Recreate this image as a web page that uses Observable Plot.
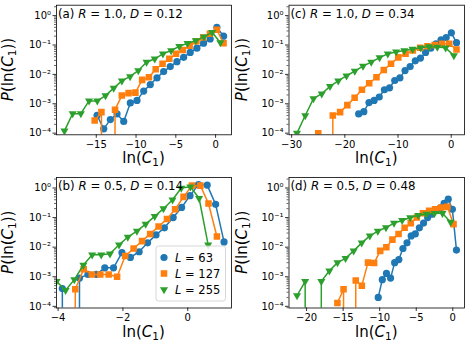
<!DOCTYPE html>
<html><head><meta charset="utf-8">
<script src="https://cdn.jsdelivr.net/npm/d3@7"></script>
<script src="https://cdn.jsdelivr.net/npm/@observablehq/plot@0.6"></script>
<style>
body{margin:0;background:#fff;}
#fig{position:relative;width:469px;height:351px;font-family:"DejaVu Sans";background:#fff;}
#fig svg{position:absolute;overflow:visible;}
</style></head><body><div id="fig"></div>
<script>
// ---- series labels ----
const sizes = [63, 127, 255];
const colors = ["#1f77b4", "#ff7f0e", "#2ca02c"];

// ---- panel (a) R=1.0, D=0.12 ----
const a63x = [-14.9, -14.06, -13.23, -12.39, -11.55, -10.72, -9.88, -9.04, -8.21, -7.37, -6.53, -5.70, -4.86, -4.02, -3.19, -2.35, -1.51, -0.68, 0.16, 1.0];
const a63p = [4.0e-4, 1.4e-4, 2.9e-4, 4.5e-4, 2.5e-4, 1.07e-3, 1.3e-3, 2.7e-3, 4.5e-3, 7.6e-3, 1.25e-2, 1.85e-2, 2.7e-2, 3.8e-2, 5.6e-2, 7.8e-2, 0.115, 0.16, 0.4, 0.2];
const a127x = [-15.2, -14.35, -13.49, -12.64, -11.79, -10.94, -10.08, -9.23, -8.38, -7.53, -6.67, -5.82, -4.97, -4.12, -3.26, -2.41, -1.56, -0.71, 0.15, 1.0];
const a127p = [2.7e-4, 5.2e-4, 0, 6.3e-4, 1.9e-3, 2.3e-3, 2.4e-3, 6.5e-3, 8e-3, 1.5e-2, 2.3e-2, 3.4e-2, 5e-2, 6.8e-2, 9.5e-2, 0.134, 0.18, 0.24, 0.33, 0.115];
const a255x = [-19, -17.97, -16.94, -15.91, -14.87, -13.84, -12.81, -11.78, -10.75, -9.72, -8.68, -7.65, -6.62, -5.59, -4.56, -3.53, -2.49, -1.46, -0.43, 0.6];
const a255p = [1.2e-4, 4.6e-4, 4.6e-4, 1.25e-3, 1.25e-3, 1.9e-3, 3.4e-3, 6e-3, 8.5e-3, 1.35e-2, 2.6e-2, 3.4e-2, 5e-2, 6.5e-2, 9e-2, 0.115, 0.14, 0.19, 0.27, 0.12];

// ---- panel (c) R=1.0, D=0.34 ----
const c63x = [-17.4, -16.43, -15.46, -14.49, -13.53, -12.56, -11.59, -10.62, -9.65, -8.68, -7.72, -6.75, -5.78, -4.81, -3.84, -2.87, -1.91, -0.94, 0.03, 1.0];
const c63p = [4.5e-4, 5.4e-4, 1.1e-3, 1.3e-3, 1.7e-3, 3.0e-3, 3.5e-3, 6.2e-3, 7.6e-3, 1.35e-2, 1.85e-2, 2.9e-2, 3.6e-2, 5.6e-2, 7.8e-2, 0.11, 0.15, 0.18, 0.26, 0.12];
const c127x = [-25, -23.63, -22.26, -20.89, -19.53, -18.16, -16.79, -15.42, -14.05, -12.68, -11.32, -9.95, -8.58, -7.21, -5.84, -4.47, -3.11, -1.74, -0.37, 1.0];
const c127p = [1.0e-4, 0, 4e-4, 5.2e-4, 9e-4, 1.6e-3, 3e-3, 5e-3, 8e-3, 1.4e-2, 2.3e-2, 3.8e-2, 5e-2, 6.5e-2, 8e-2, 9e-2, 0.1, 0.11, 0.11, 0.07];
const c255x = [-29, -27.45, -25.9, -24.34, -22.79, -21.24, -19.69, -18.13, -16.58, -15.03, -13.47, -11.92, -10.37, -8.82, -7.26, -5.71, -4.16, -2.61, -1.05, 0.5];
const c255p = [1.0e-4, 4e-4, 1.5e-3, 2.2e-3, 3.9e-3, 6e-3, 9e-3, 1.3e-2, 1.9e-2, 2.6e-2, 3.7e-2, 5e-2, 5.8e-2, 6.5e-2, 7.3e-2, 8e-2, 8.8e-2, 8.5e-2, 8e-2, 4.4e-2];

// ---- panel (b) R=0.5, D=0.14 ----
const b63x = [-3.87, -3.61, -3.34, -3.08, -2.82, -2.56, -2.29, -2.03, -1.77, -1.50, -1.24, -0.98, -0.72, -0.45, -0.19, 0.07, 0.33, 0.60, 0.86, 1.12];
const b63p = [4e-4, 0, 9e-4, 1.2e-3, 1.2e-3, 2e-3, 2e-3, 6.5e-3, 4.5e-3, 7e-3, 1.4e-2, 2.6e-2, 4.5e-2, 0.1, 0.22, 0.55, 1.3, 1.25, 0.28, 0.015];
const b127x = [-3.73, -3.47, -3.21, -2.96, -2.70, -2.44, -2.18, -1.93, -1.67, -1.41, -1.16, -0.90, -0.64, -0.39, -0.13, 0.13, 0.39, 0.64, 0.90];
const b127p = [0, 3.8e-4, 1.8e-3, 1.2e-3, 1.2e-3, 1.2e-3, 1.0e-3, 5e-3, 9e-3, 1.6e-2, 2.8e-2, 5e-2, 9e-2, 0.19, 0.5, 1.2, 1.2, 0.3, 0.023];
const b255x = [-4.05, -3.77, -3.5, -3.22, -2.95, -2.67, -2.4, -2.12, -1.85, -1.57, -1.3, -1.02, -0.75, -0.47, -0.2, 0.08, 0.35, 0.63];
const b255p = [7e-4, 3.5e-4, 8e-4, 2.5e-3, 5.5e-3, 5.5e-3, 6e-3, 1.2e-2, 2.2e-2, 3.5e-2, 6e-2, 0.11, 0.2, 0.4, 1.0, 1.1, 0.45, 0.012];

// ---- panel (d) R=0.5, D=0.48 ----
const d63x = [-10.2, -9.64, -9.07, -8.51, -7.95, -7.38, -6.82, -6.26, -5.69, -5.13, -4.57, -4.0, -3.44, -2.88, -2.31, -1.75, -1.19, -0.62, -0.06, 0.5];
const d63p = [2e-4, 8e-4, 1.3e-3, 9e-4, 3e-3, 3.8e-3, 9e-3, 1.4e-2, 2.4e-2, 2.8e-2, 4.5e-2, 6.5e-2, 0.1, 0.13, 0.17, 0.21, 0.3, 0.42, 0.19, 8e-3];
const d127x = [-15.78, -14.94, -14.11, -13.27, -12.44, -11.6, -10.76, -9.93, -9.09, -8.26, -7.42, -6.59, -5.75, -4.92, -4.08, -3.24, -2.41, -1.57, -0.74, 0.1];
const d127p = [1.3e-4, 3.8e-4, 0, 7.5e-4, 5e-4, 3e-3, 2.9e-3, 7.5e-3, 1e-2, 1.8e-2, 2.8e-2, 4.5e-2, 6.5e-2, 0.1, 0.14, 0.17, 0.19, 0.22, 0.23, 0.06];
const d255x = [-21.3, -20.19, -19.09, -17.98, -16.88, -15.77, -14.67, -13.56, -12.46, -11.35, -10.25, -9.14, -8.04, -6.93, -5.83, -4.72, -3.62, -2.51, -1.41, -0.3];
const d255p = [2.3e-4, 7e-4, 0, 7e-4, 1.6e-3, 3e-3, 4.2e-3, 7.5e-3, 1.4e-2, 2.4e-2, 3.5e-2, 4.6e-2, 6.5e-2, 8e-2, 0.1, 0.12, 0.13, 0.14, 0.14, 0.07];

// ---- tick values ----
const yMajorTicks = [1e-4, 1e-3, 1e-2, 1e-1, 1];
const xTicksA = [-15, -10, -5, 0];
const xTicksC = [-30, -20, -10, 0];
const xTicksB = [-4, -2, 0];
const xTicksD = [-20, -15, -10, -5, 0];

const panels = [
  {tag: "a", R: 1.0, D: 0.12, xs: [a63x, a127x, a255x], ps: [a63p, a127p, a255p], xDomain: [-20, 2], xTicks: xTicksA, col: 0, row: 0},
  {tag: "c", R: 1.0, D: 0.34, xs: [c63x, c127x, c255x], ps: [c63p, c127p, c255p], xDomain: [-30.5, 2.5], xTicks: xTicksC, col: 1, row: 0},
  {tag: "b", R: 0.5, D: 0.14, xs: [b63x, b127x, b255x], ps: [b63p, b127p, b255p], xDomain: [-4.05, 1.35], xTicks: xTicksB, col: 0, row: 1, legend: true},
  {tag: "d", R: 0.5, D: 0.48, xs: [d63x, d127x, d255x], ps: [d63p, d127p, d255p], xDomain: [-22.4, 1.6], xTicks: xTicksD, col: 1, row: 1}
];

const yDomain = [8.8e-5, 2.26];
const minorTicks = [];
for (let k = -5; k <= 0; k++) for (let m = 2; m <= 9; m++) {
  const v = m * Math.pow(10, k);
  if (v >= yDomain[0] && v <= yDomain[1]) minorTicks.push(v);
}
const supMap = {"-": "\u207B", "0": "\u2070", "1": "\u00B9", "2": "\u00B2", "3": "\u00B3", "4": "\u2074", "5": "\u2075"};
const fmtY = d => "10" + String(Math.round(Math.log10(d))).split("").map(c => supMap[c] || c).join("");
const fmtX = d => String(d).replace("-", "\u2212");

const symbols = ["circle", "square", "triangle"];
const radii = [3.6, 3.7, 3.0];
const rotates = [0, 0, 180];

const colGeom = [{left: 0, width: 234, ml: 56, mr: 3}, {left: 234, width: 235, ml: 54.5, mr: 5}];
const rowGeom = [{top: 0, height: 170, mt: 4.7, mb: 35.7}, {top: 170, height: 181, mt: 7, mb: 43.5}];

const fig = document.getElementById("fig");

for (const P of panels) {
  const cg = colGeom[P.col], rg = rowGeom[P.row];
  const marks = [];
  P.xs.forEach((xs, i) => {
    const data = xs.map((x, j) => ({x, p: P.ps[i][j], L: sizes[i]}));
    marks.push(Plot.line(data, {x: "x", y: d => d.p > 0 ? d.p : 1e-300, stroke: colors[i], strokeWidth: 1.5, clip: true}));
    marks.push(Plot.dot(data.filter(d => d.p > 0), {x: "x", y: "p", symbol: symbols[i], fill: colors[i], stroke: "none", r: radii[i], rotate: rotates[i], clip: true}));
  });
  marks.push(
    Plot.axisX({ticks: P.xTicks, tickSize: 3.5, tickPadding: 2.5, tickFormat: fmtX, strokeWidth: 0.8, label: null}),
    Plot.axisY({ticks: yMajorTicks, tickSize: 3.5, tickPadding: 2, tickFormat: fmtY, strokeWidth: 0.8, label: null}),
    Plot.axisY(minorTicks, {tickSize: 2, strokeWidth: 0.6, fill: "none", label: null}),
    Plot.frame({stroke: "black", strokeWidth: 0.8})
  );
  const svg = Plot.plot({
    width: cg.width, height: rg.height,
    marginLeft: cg.ml, marginRight: cg.mr, marginTop: rg.mt, marginBottom: rg.mb,
    x: {domain: P.xDomain, label: null},
    y: {type: "log", domain: yDomain, label: null},
    style: {fontFamily: "DejaVu Sans", fontSize: "10px", color: "black", background: "transparent", overflow: "visible"},
    marks
  });
  svg.style.left = cg.left + "px";
  svg.style.top = rg.top + "px";
  fig.appendChild(svg);

  const s = d3.select(svg);
  const fL = cg.ml, fR = cg.width - cg.mr, fT = rg.mt, fB = rg.height - rg.mb;
  const g = s.append("g").attr("font-family", "DejaVu Sans").attr("fill", "black").attr("text-anchor", "start");
  // panel title
  g.append("text").attr("x", fL + 2).attr("y", fT + 12.8).attr("font-size", 11.8).attr("text-anchor", "start")
    .html(`(${P.tag}) <tspan font-style="italic">R</tspan> = ${P.R.toFixed(1)}, <tspan font-style="italic">D</tspan> = ${P.D.toFixed(2)}`);
  // x label
  g.append("text").attr("x", (fL + fR) / 2).attr("y", fB + 29).attr("text-anchor", "middle").attr("font-size", 15)
    .html(`ln(<tspan font-style="italic">C</tspan><tspan dy="3" font-size="10.5">1</tspan><tspan dy="-3">)</tspan>`);
  // y label
  g.append("text").attr("transform", `translate(13,${(fT + fB) / 2}) rotate(-90)`).attr("text-anchor", "middle").attr("font-size", 15)
    .html(`<tspan font-style="italic">P</tspan>(ln(<tspan font-style="italic">C</tspan><tspan dy="3" font-size="10.5">1</tspan><tspan dy="-3">))</tspan>`);

  if (P.legend) {
    const lx = 156, ly = 246 - rg.top, lw = 69.5, lh = 55;
    const lg = g.append("g");
    lg.append("rect").attr("x", lx).attr("y", ly).attr("width", lw).attr("height", lh)
      .attr("rx", 2.5).attr("fill", "white").attr("fill-opacity", 0.8).attr("stroke", "#cccccc").attr("stroke-width", 0.8);
    const symTypes = [d3.symbolCircle, d3.symbolSquare, d3.symbolTriangle];
    sizes.forEach((L, i) => {
      const cy = ly + 11.5 + i * 16;
      lg.append("path").attr("d", d3.symbol(symTypes[i], Math.PI * radii[i] * radii[i])())
        .attr("transform", `translate(${lx + 8},${cy}) rotate(${rotates[i]})`).attr("fill", colors[i]);
      lg.append("text").attr("x", lx + 19).attr("y", cy + 4.2).attr("font-size", 11.5).attr("text-anchor", "start")
        .html(`<tspan font-style="italic">L</tspan> = ${L}`);
    });
  }
}
</script></body></html>
